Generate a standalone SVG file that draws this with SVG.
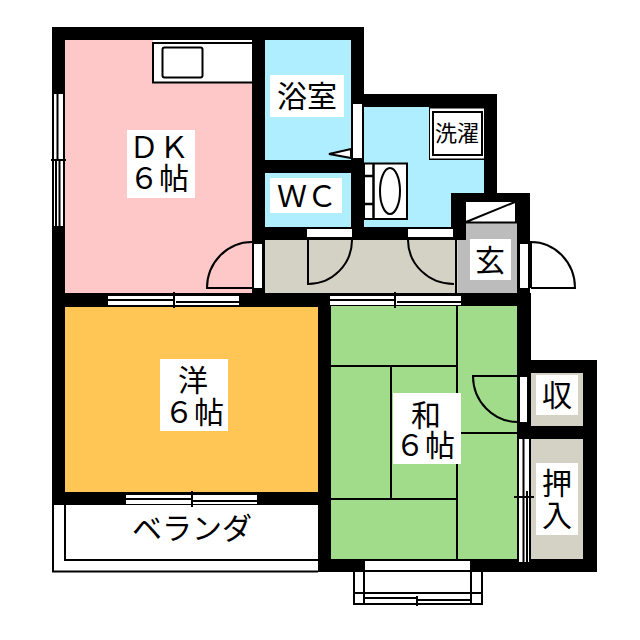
<svg xmlns="http://www.w3.org/2000/svg" width="640" height="640" viewBox="0 0 640 640">
<style>
text{font-family:"Noto Sans CJK JP","Liberation Sans",sans-serif;font-size:30px;text-anchor:middle;fill:#000}
.w{fill:#fff}
.k{fill:#000}
.l{fill:none;stroke:#000;stroke-width:2}
.o{fill:#fff;stroke:#000;stroke-width:2}
</style>
<rect width="640" height="640" fill="#fff"/>
<g id="walls">
<rect class="k" x="52" y="27" width="312" height="280"/>
<rect class="k" x="351" y="94" width="146" height="146"/>
<rect class="k" x="451" y="193" width="79" height="114"/>
<rect class="k" x="52" y="293" width="478" height="13"/>
<rect class="k" x="52" y="293" width="13" height="212"/>
<rect class="k" x="52" y="492" width="279" height="13"/>
<rect class="k" x="318" y="293" width="13" height="279"/>
<rect class="k" x="318" y="559" width="279" height="13"/>
<rect class="k" x="517" y="293" width="14" height="279"/>
<rect class="k" x="517" y="360" width="80" height="212"/>
</g>
<g id="room-dk">
<rect x="65" y="40" width="187" height="253" fill="#ffc8c8"/>
<rect class="w" x="153" y="40" width="99" height="42"/>
<path d="M152 43H252M153 43V82.500H252" class="l"/>
<rect x="162.500" y="47.500" width="40" height="30" rx="2" class="o"/>
<rect class="w" x="127" y="130" width="68" height="68"/>
<text><tspan x="159" y="158">ＤＫ</tspan><tspan x="159" y="189">６帖</tspan></text>
</g>
<g id="room-bath">
<rect x="265" y="40" width="86" height="120" fill="#aeeeff"/>
<rect class="w" x="270" y="75" width="74" height="42"/>
<text x="307" y="107">浴室</text>
<polygon points="329,154 351,149 351,158" class="o"/>
</g>
<g id="room-wc">
<rect x="265" y="173" width="86" height="54" fill="#aeeeff"/>
<rect class="w" x="270" y="178" width="72" height="35"/>
<text x="307" y="207">ＷＣ</text>
</g>
<g id="room-wash">
<rect x="364" y="107" width="120" height="120" fill="#aeeeff"/>
<rect class="k" x="451" y="193" width="46" height="47"/>
<rect x="364" y="163.500" width="43" height="55.500" class="o"/>
<path d="M373.500 163V219M364 176H373M364 204H373" fill="none" stroke="#000" stroke-width="2.500"/>
<ellipse cx="390" cy="191" rx="10" ry="23" class="o"/>
<rect x="429" y="107" width="55" height="53" class="k"/>
<rect x="430" y="108.500" width="54" height="50" class="w"/>
<rect x="433" y="112" width="49" height="43" class="o"/>
<text x="457" y="141" style="font-size:22px">洗濯</text>
</g>
<g id="room-hall">
<rect x="265" y="240" width="193" height="53" fill="#d4d1c5"/>
<rect class="k" x="455" y="238" width="2" height="55"/>
</g>
<g id="room-genkan">
<rect x="458" y="223" width="59" height="70" fill="#bcbcbc"/>
<rect class="k" x="451" y="193" width="15" height="47"/>
<rect class="w" x="466" y="202" width="49" height="20"/>
<path d="M465 222.500H517M466 222L515 202" class="l"/>
<rect class="k" x="451" y="222" width="13" height="18"/>
<rect class="w" x="470" y="239" width="41" height="41"/>
<text x="490" y="271">玄</text>
</g>
<g id="room-western">
<rect x="65" y="307" width="253" height="185" fill="#ffc655"/>
<rect class="w" x="160" y="359" width="68" height="72"/>
<text><tspan x="193" y="391">洋</tspan><tspan x="194" y="423">６帖</tspan></text>
</g>
<g id="room-japanese">
<rect x="331" y="306" width="186" height="253" fill="#a0dc8a"/>
<path d="M457 306V559M331 366H457M391 366V499M331 499H457M457 433H517" class="l"/>
<path d="M518 376H473A45 46 0 0 0 518 422" class="l"/>
<rect class="w" x="393" y="393" width="68" height="71"/>
<text><tspan x="426" y="426">和</tspan><tspan x="425" y="456">６帖</tspan></text>
</g>
<g id="room-closet1">
<rect x="531" y="373" width="52" height="53" fill="#d4d1c5"/>
<rect class="w" x="536" y="375" width="42" height="40"/>
<text x="557" y="406">収</text>
</g>
<g id="room-closet2">
<rect x="531" y="439" width="52" height="120" fill="#d4d1c5"/>
<rect class="w" x="536" y="463" width="42" height="72"/>
<text><tspan x="557" y="494">押</tspan><tspan x="557" y="526">入</tspan></text>
</g>
<g id="veranda">
<rect x="53" y="505" width="265" height="67" fill="#fff"/>
<path d="M65 505V560H318M53 505V571.500H318" class="l"/>
<text x="192" y="539">ベランダ</text>
</g>
<g id="doors">
<rect class="w" x="254" y="244" width="8" height="44"/>
<path d="M252 288H207A45 46 0 0 1 252 242" class="l"/>
<rect class="w" x="307" y="229" width="45" height="8"/>
<path d="M308 238V284A44 44 0 0 0 352 240" class="l"/>
<rect class="w" x="408" y="229" width="45" height="8"/>
<path d="M408 240A46 44 0 0 0 454 284" class="l"/>
<rect class="w" x="353" y="104" width="9" height="54"/>
<rect class="w" x="520" y="244" width="8" height="44"/>
<path d="M531 288H575A44 46 0 0 0 531 242V288" class="l"/>
<rect class="w" x="520" y="377" width="7" height="45"/>
</g>
<g id="windows">
<rect class="w" x="54" y="94" width="9" height="132"/>
<path d="M57.500 94V160M56 160V226M59.500 160V226" class="l" stroke-width="1.500"/>
<path d="M51 160H66" class="l"/>
<rect class="w" x="108" y="296" width="131" height="9"/>
<path d="M108 300H174M176 302H239M174 292V308" class="l"/>
<rect class="w" x="126" y="495" width="131" height="9"/>
<path d="M126 499H192M192 501H257M192 491V507" class="l"/>
<rect class="w" x="330" y="296" width="131" height="9"/>
<path d="M330 300H395M397 302H461M395 292V308" class="l"/>
<rect class="w" x="519" y="439" width="10" height="123"/>
<path d="M523.500 439V562M527 491V562M514 497H534" class="l" stroke-width="1.500"/>
</g>
<g id="bay-window">
<rect class="w" x="365" y="561" width="105" height="9"/>
<path d="M354 572V604H482V572M364 572V604M471 572V604M354 593H482" class="l"/>
<path d="M364 598H416M418 600H471M417 596V606" class="l"/>
</g>
</svg>
